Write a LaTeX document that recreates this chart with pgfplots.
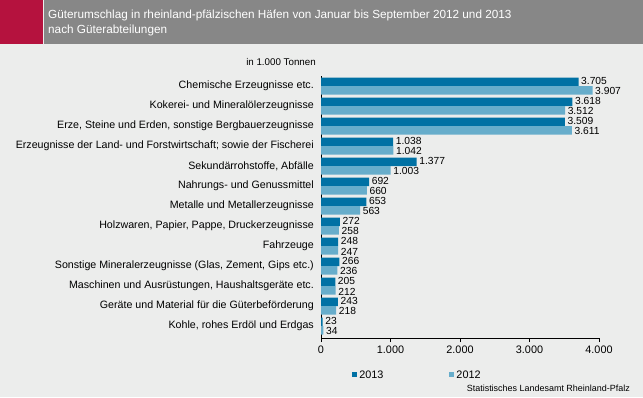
\documentclass[border=0pt]{standalone}
\usepackage{pgfplots}
\pgfplotsset{compat=1.18}
\usepackage{fontspec}
\setmainfont{Liberation Sans}
\definecolor{bg}{HTML}{ECEDEC}
\definecolor{titlegray}{HTML}{878787}
\definecolor{titlered}{HTML}{B5123E}
\definecolor{darkblue}{HTML}{0071A4}
\definecolor{lightblue}{HTML}{67ADCB}
\pgfplotstableread{
y v2013 v2012
12 3705 3907
11 3618 3512
10 3509 3611
9 1038 1042
8 1377 1003
7 692 660
6 653 563
5 272 258
4 248 247
3 266 236
2 205 212
1 243 218
0 23 34
}\datatable
\begin{document}
\begin{tikzpicture}[x=1bp,y=1bp]
\fill[bg] (0,0) rectangle (643,-397);
\fill[titlered] (0,0) rectangle (43,-44);
\fill[titlegray] (44,0) rectangle (643,-44);
\node[anchor=north west, text=white, align=left, font=\fontsize{11.8}{15}\selectfont, inner sep=0] at (48,-10) {Güterumschlag in rheinland-pfälzischen Häfen von Januar bis September 2012 und 2013\\nach Güterabteilungen};
\node[font=\fontsize{9.8}{11}\selectfont, anchor=center, inner sep=0] at (281,-62) {in 1.000 Tonnen};
\node[font=\fontsize{9}{10}\selectfont, anchor=east, inner sep=0] at (630,-388) {Statistisches Landesamt Rheinland-Pfalz};
\begin{axis}[
  at={(321bp,-338bp)}, anchor=south west,
  scale only axis, width=278bp, height=262bp,
  xbar, bar width=8.5bp,
  xmin=0, xmax=4000, ymin=-0.6, ymax=12.5,
  axis x line*=bottom, axis y line*=left,
  axis line style={black, line width=0.9bp},
  xtick={0,1000,2000,3000,4000},
  ytick={0,...,12},
  yticklabels={Kohle{,} rohes Erdöl und Erdgas, Geräte und Material für die Güterbeförderung, Maschinen und Ausrüstungen{,} Haushaltsgeräte etc., Sonstige Mineralerzeugnisse (Glas{,} Zement{,} Gips etc.), Fahrzeuge, Holzwaren{,} Papier{,} Pappe{,} Druckerzeugnisse, Metalle und Metallerzeugnisse, Nahrungs- und Genussmittel, Sekundärrohstoffe{,} Abfälle, Erzeugnisse der Land- und Forstwirtschaft; sowie der Fischerei, Erze{,} Steine und Erden{,} sonstige Bergbauerzeugnisse, Kokerei- und Mineralölerzeugnisse, Chemische Erzeugnisse etc.},
  minor ytick={0.5,1.5,...,11.5},
  tick align=outside,
  major tick length=4bp, minor tick length=4bp,
  ytick style={draw=none},
  minor tick style={black, line width=0.9bp, draw=black},
  xtick style={black, line width=0.9bp},
  xticklabel style={font=\fontsize{10.9}{12}\selectfont},
  yticklabel style={font=\fontsize{10.7}{12}\selectfont, inner sep=3bp},
  /pgf/number format/.cd, 1000 sep={.}, assume math mode=true, /pgfplots/.cd,
  nodes near coords,
  every node near coord/.append style={font=\fontsize{10.3}{12}\selectfont, inner xsep=2.5bp, inner ysep=0pt, black},
  legend style={at={(0.112,-0.141)}, anchor=west, draw=none, fill=none, font=\fontsize{10.9}{12}\selectfont, inner sep=0pt, legend columns=2, /tikz/every even column/.append style={column sep=64bp}},
  legend image code/.code={\fill[#1, draw=none] (0bp,-2.5bp) rectangle (5bp,2.5bp);},
  clip=false,
]
\addplot[fill=darkblue, draw=none, bar shift=4.25bp, every node near coord/.append style={yshift=1.2bp}] table[x=v2013, y=y] {\datatable};
\addplot[fill=lightblue, draw=none, bar shift=-4.25bp, every node near coord/.append style={yshift=-1.2bp}] table[x=v2012, y=y] {\datatable};
\legend{2013, 2012}
\end{axis}
\pgfresetboundingbox
\useasboundingbox (0,0) rectangle (643,-397);
\end{tikzpicture}
\end{document}
